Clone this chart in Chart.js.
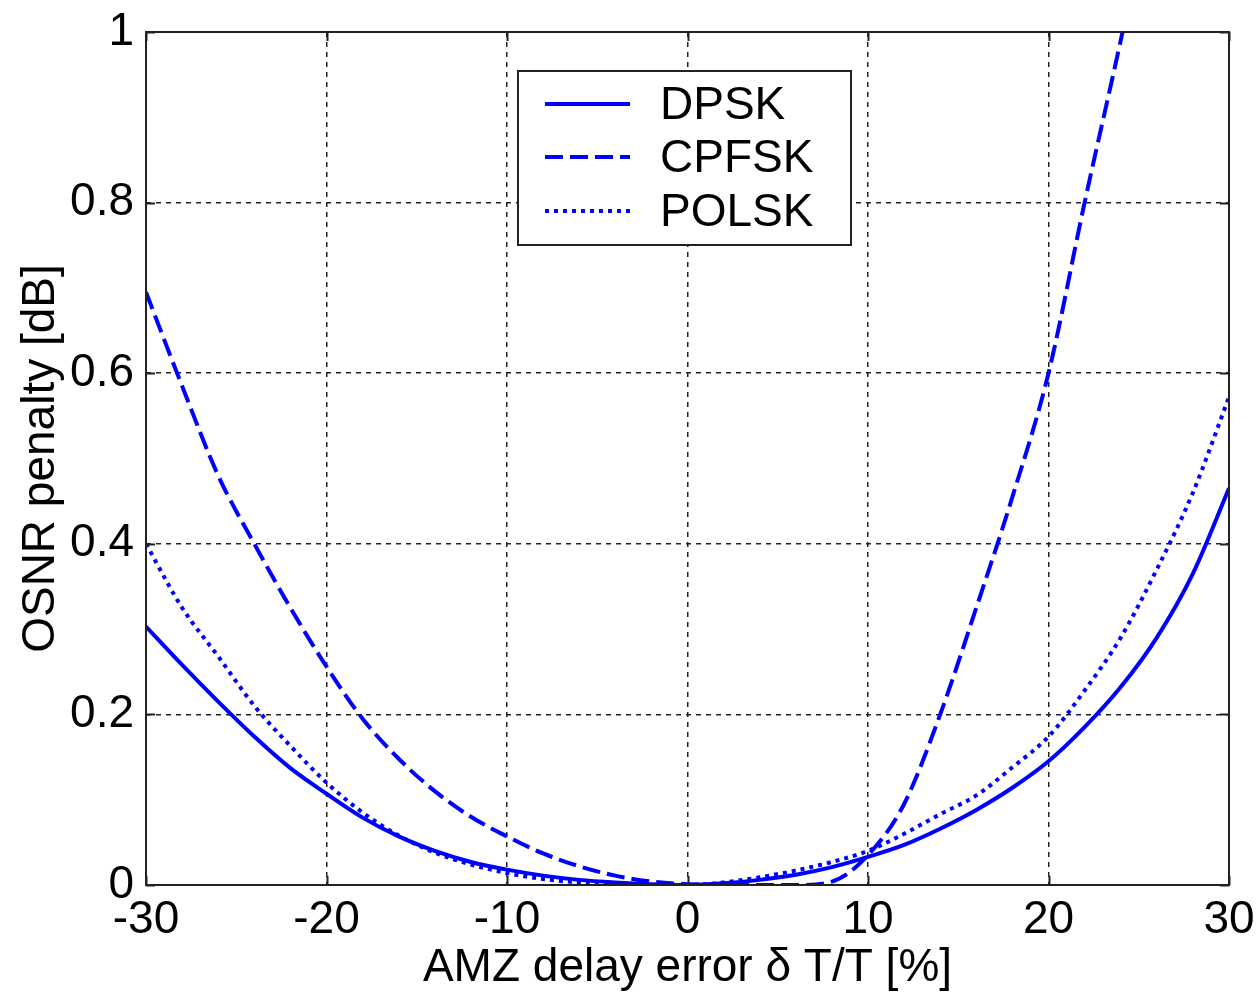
<!DOCTYPE html>
<html>
<head>
<meta charset="utf-8">
<script src="https://cdn.jsdelivr.net/npm/chart.js@4"></script>
<style>
  html, body { margin: 0; padding: 0; background: #fff; }
  #chart { display: block; }
</style>
</head>
<body>
<canvas id="chart" width="1260" height="1000"></canvas>
<script>
// delay error sample points [%]
const delayErr = [-30, -28, -26, -24, -22, -20, -18, -16, -14, -12, -10, -8, -6, -4, -2, 0,
                  2, 4, 6, 8, 10, 12, 14, 16, 18, 20, 22, 24, 26, 28, 30];
const dpskPenalty = [0.303, 0.258, 0.215, 0.174, 0.137, 0.107, 0.079, 0.057, 0.040, 0.027, 0.018, 0.011, 0.006, 0.003, 0.001, 0.0,
                     0.002, 0.006, 0.012, 0.021, 0.033, 0.047, 0.066, 0.088, 0.114, 0.145, 0.185, 0.232, 0.290, 0.365, 0.465];
const polskPenalty = [0.400, 0.325, 0.268, 0.210, 0.163, 0.120, 0.085, 0.058, 0.038, 0.024, 0.014, 0.007, 0.003, 0.001, 0.0, 0.0,
                      0.003, 0.009, 0.017, 0.027, 0.040, 0.060, 0.083, 0.105, 0.138, 0.174, 0.228, 0.290, 0.370, 0.460, 0.572];
// CPFSK leaves the plot at the top, so its samples stop a bit past 24 %
const cpfskDelayErr = [-30, -28, -26, -24, -22, -20, -18, -16, -14, -12, -10, -8, -6, -4, -2, 0,
                       2, 4, 6, 8, 10, 12, 14, 16, 18, 20, 22, 24, 25];
const cpfskPenalty = [0.695, 0.585, 0.480, 0.400, 0.325, 0.256, 0.195, 0.148, 0.110, 0.080, 0.057, 0.037, 0.022, 0.011, 0.004, 0.001,
                      0.0, 0.0, 0.0, 0.004, 0.035, 0.095, 0.200, 0.325, 0.455, 0.600, 0.800, 0.990, 1.090];

const xTicks = [-30, -20, -10, 0, 10, 20, 30];
const yTicks = [0, 0.2, 0.4, 0.6, 0.8, 1];

const BLUE = '#0000ff';
const FONT = 'Helvetica, Arial, "Liberation Sans", sans-serif';

function toPoints(xs, ys) {
    return xs.map((x, i) => ({ x: x, y: ys[i] }));
}

// matlab style box, inward tick marks and the legend inside the axes
const matlabFrame = {
    id: 'matlabFrame',
    afterDatasetsDraw(chart) {
        const { ctx, chartArea: a, scales: { x, y } } = chart;
        ctx.save();
        ctx.strokeStyle = '#222';
        ctx.lineWidth = 2;
        ctx.setLineDash([]);
        ctx.strokeRect(a.left, a.top, a.right - a.left, a.bottom - a.top);

        const tl = 9;
        ctx.beginPath();
        xTicks.forEach(v => {
            const px = Math.round(x.getPixelForValue(v)) + 0.5;
            ctx.moveTo(px, a.bottom); ctx.lineTo(px, a.bottom - tl);
            ctx.moveTo(px, a.top); ctx.lineTo(px, a.top + tl);
        });
        yTicks.forEach(v => {
            const py = Math.round(y.getPixelForValue(v)) + 0.5;
            ctx.moveTo(a.left, py); ctx.lineTo(a.left + tl, py);
            ctx.moveTo(a.right, py); ctx.lineTo(a.right - tl, py);
        });
        ctx.stroke();

        // legend
        const box = { left: 518, top: 71, width: 333, height: 174 };
        ctx.fillStyle = '#fff';
        ctx.fillRect(box.left, box.top, box.width, box.height);
        ctx.lineWidth = 2;
        ctx.strokeStyle = '#222';
        ctx.strokeRect(box.left, box.top, box.width, box.height);

        const rows = [104, 157, 211];
        ctx.font = '46px ' + FONT;
        ctx.textBaseline = 'middle';
        ctx.textAlign = 'left';
        chart.data.datasets.forEach((ds, i) => {
            ctx.beginPath();
            ctx.strokeStyle = ds.borderColor;
            ctx.lineWidth = ds.borderWidth;
            ctx.setLineDash(ds.borderDash || []);
            ctx.moveTo(545, rows[i]);
            ctx.lineTo(630, rows[i]);
            ctx.stroke();
            ctx.fillStyle = '#000';
            ctx.fillText(ds.label, 660, rows[i] + 2);
        });
        ctx.restore();
    }
};

const lineStyle = {
    borderColor: BLUE,
    borderWidth: 4,
    pointRadius: 0,
    fill: false,
    cubicInterpolationMode: 'monotone'
};

new Chart(document.getElementById('chart'), {
    type: 'line',
    data: {
        datasets: [
            Object.assign({ label: 'DPSK', data: toPoints(delayErr, dpskPenalty) }, lineStyle),
            Object.assign({ label: 'CPFSK', data: toPoints(cpfskDelayErr, cpfskPenalty), borderDash: [18, 7] }, lineStyle),
            Object.assign({ label: 'POLSK', data: toPoints(delayErr, polskPenalty), borderDash: [4, 5] }, lineStyle)
        ]
    },
    options: {
        responsive: false,
        animation: false,
        layout: { padding: { top: 32, right: 31, left: 0, bottom: 0 } },
        plugins: { legend: { display: false }, tooltip: { enabled: false } },
        scales: {
            x: {
                type: 'linear',
                min: -30,
                max: 30,
                afterBuildTicks: axis => { axis.ticks = xTicks.map(v => ({ value: v })); },
                afterFit: axis => { axis.height = 115; axis.paddingLeft = 0; axis.paddingRight = 0; },
                ticks: { color: '#000', font: { size: 46, family: FONT }, padding: 8, maxRotation: 0 },
                grid: { color: '#222', lineWidth: 1.5, drawTicks: false },
                border: { display: false, dash: [5, 5] },
                title: { display: true, text: 'AMZ delay error δ T/T [%]', color: '#000', font: { size: 46, family: FONT }, padding: { top: 0, bottom: 4 } }
            },
            y: {
                min: 0,
                max: 1,
                afterBuildTicks: axis => { axis.ticks = yTicks.map(v => ({ value: v })); },
                afterFit: axis => { axis.width = 146; axis.paddingTop = 0; axis.paddingBottom = 0; },
                ticks: { color: '#000', font: { size: 46, family: FONT }, padding: 12, callback: v => String(+v.toFixed(1)) },
                grid: { color: '#222', lineWidth: 1.5, drawTicks: false },
                border: { display: false, dash: [5, 5] },
                title: { display: true, text: 'OSNR penalty [dB]', color: '#000', font: { size: 46, family: FONT }, padding: { top: 14, bottom: 0 } }
            }
        }
    },
    plugins: [matlabFrame]
});
</script>
</body>
</html>
